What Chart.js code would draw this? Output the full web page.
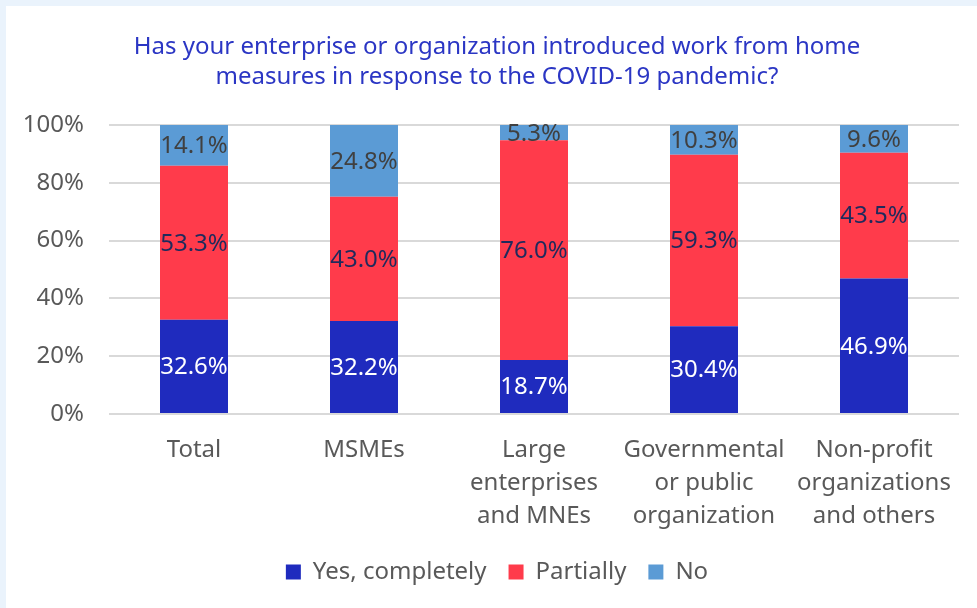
<!DOCTYPE html>
<html>
<head>
<meta charset="utf-8">
<script src="https://cdn.jsdelivr.net/npm/chart.js@4/dist/chart.umd.min.js"></script>
<style>
    html, body { margin: 0; padding: 0; background: #eaf3fc; }
    #wrap { position: absolute; left: 6px; top: 6px; width: 971px; height: 602px; background: #ffffff; }
</style>
</head>
<body>
<div id="wrap"><canvas id="workChart" width="971" height="602"></canvas></div>
<script>
// categories and series (percent of respondents)
const categories = [
    ["Total"],
    ["MSMEs"],
    ["Large", "enterprises", "and MNEs"],
    ["Governmental", "or public", "organization"],
    ["Non-profit", "organizations", "and others"]
];
const yesCompletely = [32.6, 32.2, 18.7, 30.4, 46.9];
const partially = [53.3, 43.0, 76.0, 59.3, 43.5];
const noWfh = [14.1, 24.8, 5.3, 10.3, 9.6];
const yTicks = [0, 20, 40, 60, 80, 100];

const fontName = "'Noto Sans', 'Open Sans', sans-serif";
const greyText = "#595959";

// draws the value inside each stacked segment
const segmentLabels = {
    id: 'segmentLabels',
    afterDatasetsDraw: function(chart) {
        const ctx = chart.ctx;
        ctx.save();
        ctx.font = "24px " + fontName;
        ctx.textAlign = "center";
        ctx.textBaseline = "middle";
        chart.data.datasets.forEach(function(ds, i) {
            const meta = chart.getDatasetMeta(i);
            meta.data.forEach(function(bar, j) {
                const mid = (bar.y + bar.base) / 2;
                ctx.fillStyle = ds.labelColor;
                ctx.fillText(ds.data[j].toFixed(1) + "%", bar.x, mid + 1);
            });
        });
        ctx.restore();
    }
};

new Chart(document.getElementById('workChart'), {
    type: 'bar',
    plugins: [segmentLabels],
    data: {
        labels: categories,
        datasets: [
            { label: "Yes, completely", data: yesCompletely, backgroundColor: "#1f2bbe", labelColor: "#ffffff" },
            { label: "Partially", data: partially, backgroundColor: "#ff3b4b", labelColor: "#1f2a5c" },
            { label: "No", data: noWfh, backgroundColor: "#5b9bd5", labelColor: "#404040" }
        ]
    },
    options: {
        responsive: false,
        animation: false,
        layout: { padding: { left: 29, right: 18, top: 18, bottom: 14 } },
        datasets: { bar: { categoryPercentage: 1.0, barPercentage: 0.4 } },
        plugins: {
            title: {
                display: true,
                text: ["Has your enterprise or organization introduced work from home",
                       "measures in response to the COVID-19 pandemic?"],
                color: "#2b36c4",
                font: { family: fontName, size: 24, weight: 'normal', lineHeight: 1.25 },
                padding: { top: 8, bottom: 33 }
            },
            legend: {
                position: 'bottom',
                labels: {
                    color: greyText,
                    font: { family: fontName, size: 24 },
                    boxWidth: 15,
                    boxHeight: 15,
                    padding: 22
                }
            },
            tooltip: { enabled: false }
        },
        scales: {
            x: {
                stacked: true,
                grid: { display: false, drawTicks: false },
                border: { display: false },
                ticks: {
                    color: greyText,
                    padding: 20,
                    maxRotation: 0,
                    autoSkip: false,
                    font: { family: fontName, size: 24, lineHeight: 1.375 }
                },
                afterFit: function(scale) { scale.height = 124; }
            },
            y: {
                stacked: true,
                min: 0,
                max: 100,
                afterBuildTicks: function(scale) {
                    scale.ticks = yTicks.map(function(v) { return { value: v }; });
                },
                grid: { color: "#d9d9d9", lineWidth: 2, drawTicks: false },
                border: { display: false },
                ticks: {
                    color: greyText,
                    padding: 25,
                    font: { family: fontName, size: 24 },
                    callback: function(v) { return v + "%"; }
                },
                afterFit: function(scale) {
                    scale.width = 74;
                    // let "100%" spill left of the narrow axis box without being clipped
                    scale._computeLabelArea = function() { return undefined; };
                }
            }
        }
    }
});
</script>
</body>
</html>
